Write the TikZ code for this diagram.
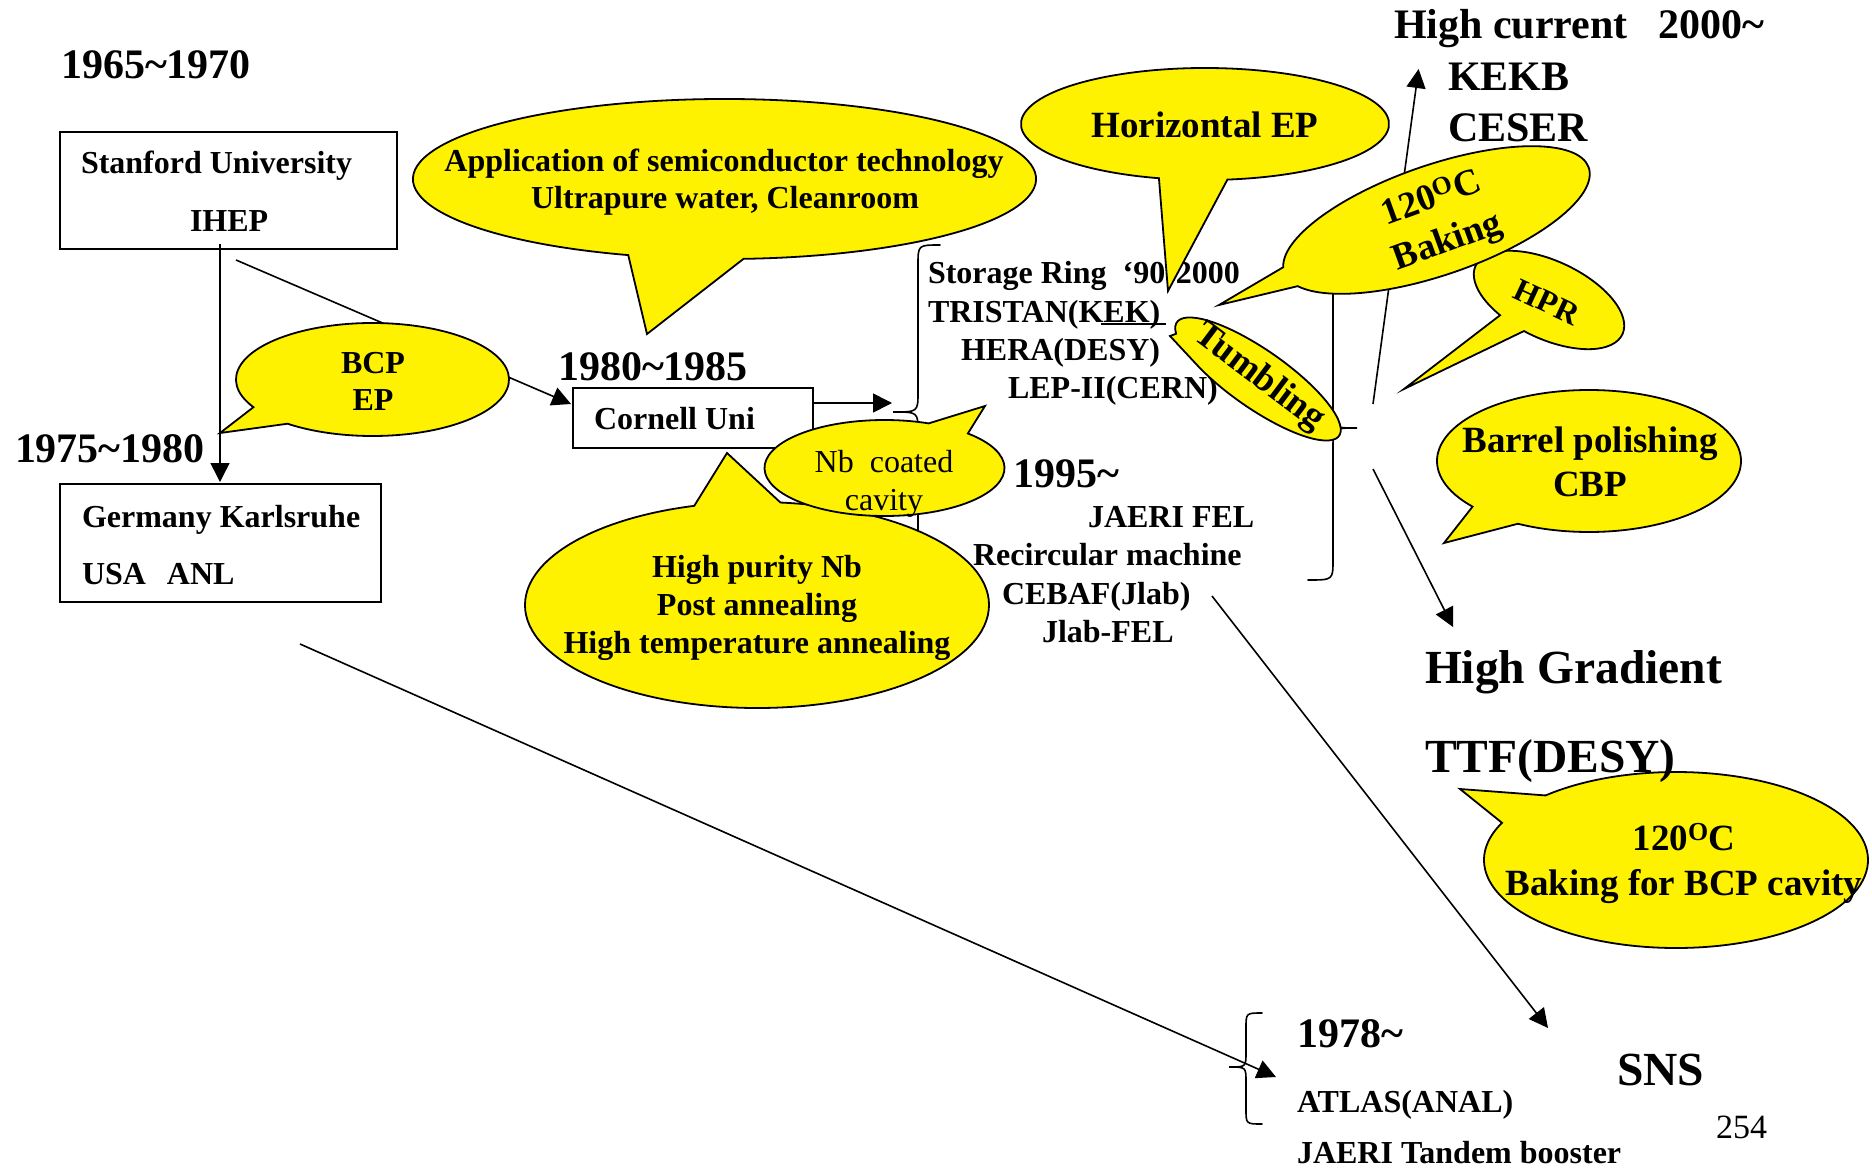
\documentclass[tikz,border=0pt]{standalone}
\usepackage{fontspec}
\setmainfont{Liberation Serif}
\usetikzlibrary{arrows.meta}
\newcommand\tld{\textasciitilde}
\begin{document}
\begin{tikzpicture}[x=1pt,y=-1pt,
  every node/.style={inner sep=0pt, outer sep=0pt},
  yr/.style={anchor=base west, font=\fontsize{42}{48}\selectfont\bfseries},
  tx/.style={anchor=base west, font=\fontsize{32}{38}\selectfont\bfseries},
  md/.style={anchor=base, font=\fontsize{37}{44}\selectfont\bfseries},
  hd/.style={anchor=base west, font=\fontsize{47.5}{56}\selectfont\bfseries},
  rg/.style={anchor=base, font=\fontsize{32}{38}\selectfont},
  ctr/.style={anchor=base},
  frame/.style={draw=black, line width=2pt, anchor=north west},
  bubble/.style={fill=yellow, draw=black, line width=1.8pt, line join=miter, miter limit=10},
  conn/.style={line width=1.6pt},
  arr/.style={conn, -{Triangle[length=19pt,width=19pt]}},
  bracestyle/.style={line width=1.6pt, line cap=round},
]
\fill[white] (0,0) rectangle (1872,1170);
\useasboundingbox (0,0) rectangle (1872,1170);

% ---------- coordinates ----------
\coordinate (s1) at (220,244);  \coordinate (g1) at (220,482);
\coordinate (s2) at (236,260);  \coordinate (c1) at (571,404);
\coordinate (c2) at (813,403);  \coordinate (b1) at (892,403);
\coordinate (l1) at (300,644);  \coordinate (l2) at (1276,1077);
\coordinate (m1) at (1212,596); \coordinate (m2) at (1548,1028);
\coordinate (h1) at (1373,469); \coordinate (h2) at (1453,627);
\coordinate (k1) at (1373,404); \coordinate (k2) at (1418.6,69);
\coordinate (u1) at (1100.7,324); \coordinate (u2) at (1165.7,324);

\coordinate (tBCP) at (220,433);
\coordinate (tApp) at (647,334);
\coordinate (tHor) at (1168,291);
\coordinate (tNb) at (985,406);
\coordinate (tHP) at (727,453);
\coordinate (t120) at (1219,305);
\coordinate (tHPR) at (1404,389);
\coordinate (tBar) at (1444,543);
\coordinate (tBCPc) at (1460,789);
\coordinate (tTum) at (1170,336);

% ---------- connectors ----------
\draw[arr] (s1) -- (g1);
\draw[arr] (s2) -- (c1);
\draw[arr] (c2) -- (b1);
\draw[arr] (l1) -- (l2);
\draw[arr] (m1) -- (m2);
\draw[arr] (h1) -- (h2);
\draw[arr] (k1) -- (k2);
\draw[line width=1.4pt] (u1) -- (u2);

% braces
\draw[bracestyle] (940,245) .. controls (918,245) .. (918,265) -- (918,392)
  .. controls (918,412) .. (893,412) .. controls (918,412) .. (918,432)
  -- (918,560) .. controls (918,580) .. (940,580);
\draw[bracestyle] (1308,276) .. controls (1333,276) .. (1333,296) -- (1333,408)
  .. controls (1333,428) .. (1357,428) .. controls (1333,428) .. (1333,448)
  -- (1333,560) .. controls (1333,580) .. (1308,580);
\draw[bracestyle] (1262,1013) .. controls (1246,1013) .. (1246,1028) -- (1246,1052)
  .. controls (1246,1067) .. (1229,1067) .. controls (1246,1067) .. (1246,1082)
  -- (1246,1109) .. controls (1246,1124) .. (1262,1124);

% ---------- boxes ----------
\node[frame, minimum width=337pt, minimum height=117pt] (stanford) at (60,132) {};
\node[frame, minimum width=321pt, minimum height=118pt] (germany) at (60,484) {};
\node[frame, minimum width=240pt, minimum height=60pt] (cornell) at (573,388) {};

% text under the Horizontal EP tail
\node[tx] (storage) at (928,283) {Storage Ring\hspace{16pt}‘90-2000};

% ---------- bubbles ----------
\begin{scope}[shift={(724.5,179)}]
\filldraw[bubble] (108:311.5 and 80) arc[start angle=108, end angle=446.5, x radius=311.5, y radius=80] -- (tApp) -- cycle;
\end{scope}
\begin{scope}[shift={(1205,124)}]
\filldraw[bubble] (104.5:184 and 56) arc[start angle=104.5, end angle=443, x radius=184, y radius=56] -- (tHor) -- cycle;
\end{scope}
\begin{scope}[shift={(372.5,379.5)}]
\filldraw[bubble] (150.7:136.5 and 56.5) arc[start angle=150.7, end angle=488.5, x radius=136.5, y radius=56.5] -- (tBCP) -- cycle;
\end{scope}
\begin{scope}[shift={(757,605)}]
\filldraw[bubble] (275.8:232 and 103) arc[start angle=275.8, end angle=614.3, x radius=232, y radius=103] -- (tHP) -- cycle;
\end{scope}
\begin{scope}[shift={(884.5,468)}]
\filldraw[bubble] (-46:120 and 48) arc[start angle=-46, end angle=291.6, x radius=120, y radius=48] -- (tNb) -- cycle;
\end{scope}
\begin{scope}[shift={(1549,300)}, rotate=-25]
\filldraw[bubble] (117.9:81 and 39) arc[start angle=117.9, end angle=456.8, x radius=81, y radius=39] -- (tHPR) -- cycle;
\end{scope}
\begin{scope}[shift={(1436.5,220)}, rotate=19]
\filldraw[bubble] (185.5:161 and 55) arc[start angle=185.5, end angle=521.6, x radius=161, y radius=55] -- (t120) -- cycle;
\end{scope}
\begin{scope}[shift={(1258,379)}, rotate=-35]
\filldraw[bubble] (160:99 and 29) arc[start angle=160, end angle=485, x radius=99, y radius=29] -- (tTum) -- cycle;
\end{scope}
\begin{scope}[shift={(1589,461)}]
\filldraw[bubble] (140:152 and 71) arc[start angle=140, end angle=477.9, x radius=152, y radius=71] -- (tBar) -- cycle;
\end{scope}
\begin{scope}[shift={(1676,860)}]
\filldraw[bubble] (227.2:192 and 88) arc[start angle=227.2, end angle=565, x radius=192, y radius=88] -- (tBCPc) -- cycle;
\end{scope}

% ---------- texts ----------
\node[yr] (y65) at (61,78) {1965\tld1970};
\node[yr] (y75) at (15,462) {1975\tld1980};
\node[yr] (y80) at (558,380) {1980\tld1985};
\node[yr] (y95) at (1013,487) {1995\tld};
\node[yr] (y78) at (1297,1047) {1978\tld};
\node[yr] (hc) at (1394,38) {High current\hspace{31pt}2000\tld};
\node[yr] (kekb) at (1448,90) {KEKB};
\node[yr] (ceser) at (1448,141.6) {CESER};

\node[hd] (hg) at (1425,683) {High Gradient};
\node[hd] (ttf) at (1425,772) {TTF(DESY)};
\node[hd] (sns) at (1617,1085) {SNS};

\node[tx] (stxt) at (81,173) {Stanford University};
\node[tx] (ihep) at (190,231) {IHEP};
\node[tx] (gtxt) at (82,527) {Germany Karlsruhe};
\node[tx] (usa) at (82,584) {USA\hspace{21pt}ANL};
\node[tx] (ctxt) at (594,429) {Cornell Uni};
\node[tx] (tristan) at (928,322) {TRISTAN(KEK)};
\node[tx] (hera) at (961,360) {HERA(DESY)};
\node[tx] (lep) at (1008,398) {LEP-II(CERN)};
\node[tx] (jaeri) at (1088,527) {JAERI FEL};
\node[tx] (recirc) at (973,565) {Recircular machine};
\node[tx] (cebaf) at (1002,604) {CEBAF(Jlab)};
\node[tx] (jlab) at (1042,642) {Jlab-FEL};
\node[tx] (atlas) at (1297,1112) {ATLAS(ANAL)};
\node[tx] (tandem) at (1297,1163) {JAERI Tandem booster};

\node[tx, ctr] (bcp) at (373,373) {BCP};
\node[tx, ctr] (ep) at (373,410) {EP};
\node[tx, ctr] (app1) at (724,171) {Application of semiconductor technology};
\node[tx, ctr] (app2) at (725,208) {Ultrapure water, Cleanroom};
\node[tx, ctr] (hp1) at (757,577) {High purity Nb};
\node[tx, ctr] (hp2) at (757,615) {Post annealing};
\node[tx, ctr] (hp3) at (757,653) {High temperature annealing};

\node[md] (hep) at (1205,137) {Horizontal EP};
\node[md] (bar1) at (1590,452) {Barrel polishing};
\node[md] (bar2) at (1590,496) {CBP};
\node[md] (bk1) at (1684,850) {120\textsuperscript{O}C};
\node[md] (bk2) at (1684,895) {Baking for BCP cavity};

\node[rg] (nb1) at (884,472) {Nb\ \ coated};
\node[rg] (nb2) at (884,510) {cavity};

\node[rotate=20, align=center, font=\fontsize{37}{46}\selectfont\bfseries] (bake) at (1440,221) {120\textsuperscript{O}C\\Baking};
\node[rotate=-25, font=\fontsize{32}{38}\selectfont\bfseries] (hpr) at (1547,302) {HPR};
\node[rotate=-37, font=\fontsize{37}{44}\selectfont\bfseries] (tum) at (1259,378) {Tumbling};

\node[anchor=base west, font=\fontsize{34}{40}\selectfont] (pg) at (1716,1138) {254};
\end{tikzpicture}
\end{document}
